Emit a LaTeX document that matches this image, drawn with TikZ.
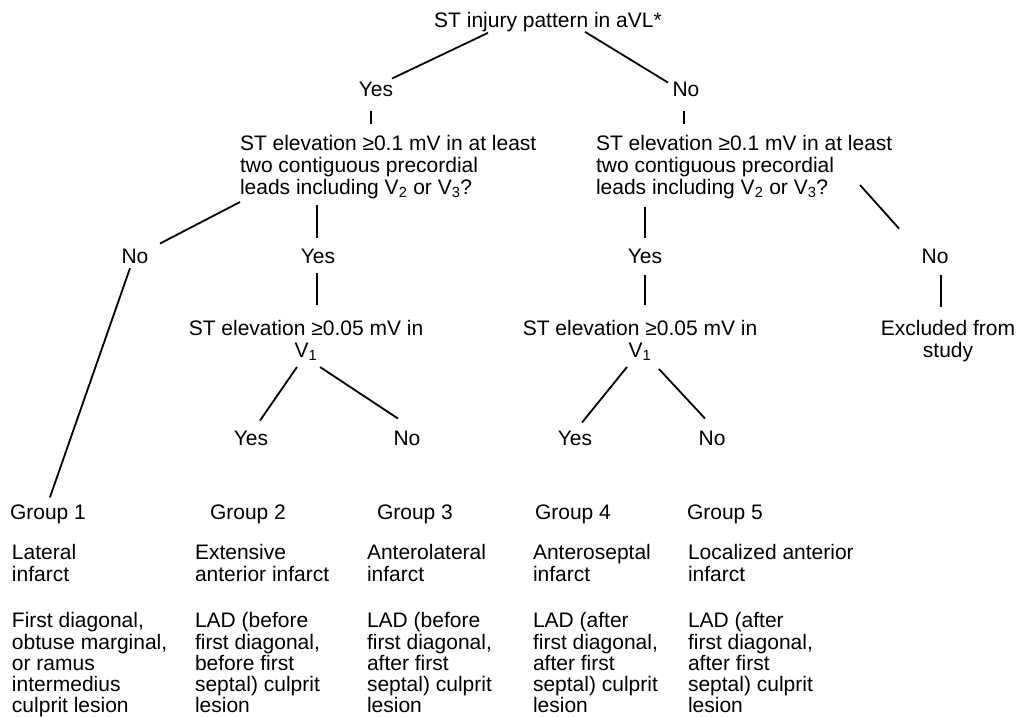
\documentclass[tikz,border=0pt]{standalone}
\usepackage{fontspec}
\setmainfont{Liberation Sans}
\usetikzlibrary{calc}
\begin{document}
\begin{tikzpicture}[x=1pt,y=-1pt,
  txt/.style={inner sep=0pt,outer sep=0pt,font=\fontsize{21}{22}\selectfont},
  btxt/.style={inner sep=0pt,outer sep=0pt,font=\fontsize{21}{21.3}\selectfont,align=left,anchor=north west},
  qbox/.style={txt,align=left,anchor=north west},
  cbox/.style={txt,align=center,anchor=north},
  lbl/.style={txt,anchor=base},
  grp/.style={txt,anchor=base west},
  conn/.style={draw=black,line width=1.8pt}]
\useasboundingbox (0,0) rectangle (1022,717);
% question and answer nodes
\node[lbl] (title) at (548,27.5) {ST injury pattern in aVL*};
\node[lbl] (yes1) at (376,96.5) {Yes};
\node[lbl] (no1) at (686,96.5) {No};
\node[qbox] (q1) at (240,135.5) {ST elevation ≥0.1 mV in at least\\two contiguous precordial\\leads including V\textsubscript{2} or V\textsubscript{3}?};
\node[qbox] (q2) at (596,135.5) {ST elevation ≥0.1 mV in at least\\two contiguous precordial\\leads including V\textsubscript{2} or V\textsubscript{3}?};
\node[lbl] (no2) at (135,263.5) {No};
\node[lbl] (yes2) at (318,263.5) {Yes};
\node[lbl] (yes3) at (645,263.5) {Yes};
\node[lbl] (no3) at (935,263.5) {No};
\node[cbox] (q3) at (306,320.5) {ST elevation ≥0.05 mV in\\V\textsubscript{1}};
\node[cbox] (q4) at (640,320.5) {ST elevation ≥0.05 mV in\\V\textsubscript{1}};
\node[cbox] (excl) at (948,320.5) {Excluded from\\study};
\node[lbl] (yes4) at (251,445.5) {Yes};
\node[lbl] (no4) at (407,445.5) {No};
\node[lbl] (yes5) at (575,445.5) {Yes};
\node[lbl] (no5) at (712,445.5) {No};
% groups
\node[grp] (g1) at (10,519.5) {Group 1};
\node[grp] (g2) at (210,519.5) {Group 2};
\node[grp] (g3) at (377,519.5) {Group 3};
\node[grp] (g4) at (535,519.5) {Group 4};
\node[grp] (g5) at (687,519.5) {Group 5};
\node[btxt] (d1) at (12,544.5) {Lateral\\infarct};
\node[btxt] (d2) at (195,544.5) {Extensive\\anterior infarct};
\node[btxt] (d3) at (367,544.5) {Anterolateral\\infarct};
\node[btxt] (d4) at (533,544.5) {Anteroseptal\\infarct};
\node[btxt] (d5) at (688,544.5) {Localized anterior\\infarct};
\node[btxt] (c1) at (12,612.5) {First diagonal,\\obtuse marginal,\\or ramus\\intermedius\\culprit lesion};
\node[btxt] (c2) at (195,612.5) {LAD (before\\first diagonal,\\before first\\septal) culprit\\lesion};
\node[btxt] (c3) at (367,612.5) {LAD (before\\first diagonal,\\after first\\septal) culprit\\lesion};
\node[btxt] (c4) at (533,612.5) {LAD (after\\first diagonal,\\after first\\septal) culprit\\lesion};
\node[btxt] (c5) at (688,612.5) {LAD (after\\first diagonal,\\after first\\septal) culprit\\lesion};
% connectors
\draw[conn] ($(title.south)+(-60,1)$) -- ($(yes1.north)+(16,-3.5)$);
\draw[conn] ($(title.south)+(37,0)$) -- ($(no1.north)+(-18,0.5)$);
\draw[conn] ($(yes1.south)+(-5,14.5)$) -- ($(q1.north west)+(131,-11.5)$);
\draw[conn] ($(no1.south)+(-2,14.5)$) -- ($(q2.north west)+(88,-11.5)$);
\draw[conn] ($(q1.north west)+(0,66.5)$) -- ($(no2.north)+(25,-5.5)$);
\draw[conn] ($(no2.south)+(-5,4.5)$) -- ($(g1.north)+(2,-7.5)$);
\draw[conn] ($(q1.north west)+(77,69.5)$) -- ($(yes2.north)+(-1,-11.5)$);
\draw[conn] ($(yes2.south)+(-1,9.5)$) -- ($(q3.north)+(11,-15.5)$);
\draw[conn] ($(q3.north)+(-9,46.5)$) -- ($(yes4.north)+(9,-10.5)$);
\draw[conn] ($(q3.north)+(14,46.5)$) -- ($(no4.north)+(-9,-12.5)$);
\draw[conn] ($(q2.north west)+(49,71.5)$) -- ($(yes3.north)+(0,-11.5)$);
\draw[conn] ($(yes3.south)+(0,11.5)$) -- ($(q4.north)+(5,-15.5)$);
\draw[conn] ($(q4.north)+(-13,46.5)$) -- ($(yes5.north)+(7,-8.5)$);
\draw[conn] ($(q4.north)+(19,48.5)$) -- ($(no5.north)+(-7,-12.5)$);
\draw[conn] ($(q2.north west)+(264,49.5)$) -- ($(no3.north)+(-36,-20.5)$);
\draw[conn] ($(no3.south)+(6,11.5)$) -- ($(excl.north)+(-7,-13.5)$);
\end{tikzpicture}
\end{document}
